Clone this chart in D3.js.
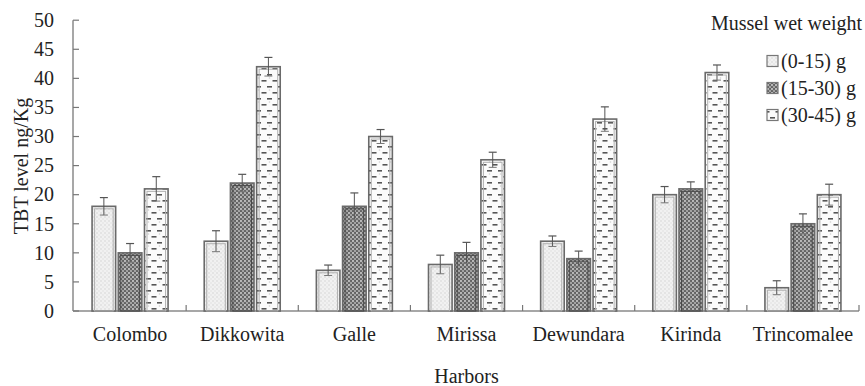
<!DOCTYPE html>
<html>
<head>
<meta charset="utf-8">
<script src="https://cdn.jsdelivr.net/npm/d3@7/dist/d3.min.js"></script>
<style>
  html, body { margin: 0; padding: 0; background: #fff; }
  svg text { font-family: "Liberation Serif", "Times New Roman", Times, "DejaVu Serif", serif; }
</style>
</head>
<body>
<svg id="chart" width="865" height="386"></svg>
<script>
// Harbors and mussel size classes
const harbors = ["Colombo", "Dikkowita", "Galle", "Mirissa", "Dewundara", "Kirinda", "Trincomalee"];
const sizeClasses = ["(0-15) g", "(15-30) g", "(30-45) g"];

// Mean TBT level (ng/Kg) for each size class, in harbor order
const tbtSmall  = [18, 12, 7, 8, 12, 20, 4];
const tbtMedium = [10, 22, 18, 10, 9, 21, 15];
const tbtLarge  = [21, 42, 30, 26, 33, 41, 20];

// Error (± ng/Kg) for each size class
const errSmall  = [1.5, 1.8, 0.9, 1.6, 0.9, 1.4, 1.2];
const errMedium = [1.6, 1.5, 2.3, 1.8, 1.3, 1.2, 1.7];
const errLarge  = [2.1, 1.6, 1.2, 1.3, 2.1, 1.3, 1.8];

const yTicks = [0, 5, 10, 15, 20, 25, 30, 35, 40, 45, 50];

const seriesValues = [tbtSmall, tbtMedium, tbtLarge];
const seriesErrors = [errSmall, errMedium, errLarge];

const FONT = '"Liberation Serif", "Times New Roman", Times, "DejaVu Serif", serif';
const TEXT_COLOR = "#222";

const svg = d3.select("#chart");
const defs = svg.append("defs");

// Fill patterns for the three size classes
const p1 = defs.append("pattern").attr("id", "pat0").attr("patternUnits", "userSpaceOnUse")
  .attr("width", 4).attr("height", 4);
p1.append("rect").attr("width", 4).attr("height", 4).attr("fill", "#f1f1f1");
p1.append("circle").attr("cx", 1).attr("cy", 1).attr("r", 0.7).attr("fill", "#cfcfcf");
p1.append("circle").attr("cx", 3).attr("cy", 3).attr("r", 0.7).attr("fill", "#dcdcdc");

const p2 = defs.append("pattern").attr("id", "pat1").attr("patternUnits", "userSpaceOnUse")
  .attr("width", 4).attr("height", 4);
p2.append("rect").attr("width", 4).attr("height", 4).attr("fill", "#626262");
p2.append("circle").attr("cx", 1).attr("cy", 1).attr("r", 1.15).attr("fill", "#bdbdbd");
p2.append("circle").attr("cx", 3).attr("cy", 3).attr("r", 1.15).attr("fill", "#a6a6a6");

const p3 = defs.append("pattern").attr("id", "pat2").attr("patternUnits", "userSpaceOnUse")
  .attr("width", 11).attr("height", 12);
p3.append("rect").attr("width", 11).attr("height", 12).attr("fill", "#fbfbfb");
p3.append("rect").attr("x", 3).attr("y", 2).attr("width", 5).attr("height", 1.6).attr("fill", "#555");
p3.append("rect").attr("x", 8.5).attr("y", 8).attr("width", 5).attr("height", 1.6).attr("fill", "#555");
p3.append("rect").attr("x", -2.5).attr("y", 8).attr("width", 5).attr("height", 1.6).attr("fill", "#555");
p3.append("circle").attr("cx", 5.5).attr("cy", 6).attr("r", 0.8).attr("fill", "#d0d0d0");

// Scales
const x0 = d3.scaleBand().domain(harbors).range([74, 859]);
const x1 = d3.scaleBand().domain(d3.range(3)).range([0, 76]).paddingInner(0.1);
const y = d3.scaleLinear().domain([0, 50]).range([311, 20.2]);

const groupOffset = (x0.bandwidth() - 76) / 2;

function label(sel) {
  return sel.attr("font-family", FONT).attr("font-size", 20).attr("fill", TEXT_COLOR);
}

// Axes
const gx = svg.append("g").attr("transform", "translate(0,311)");
gx.append("line").attr("x1", 73).attr("x2", 859).attr("y1", 0).attr("y2", 0)
  .attr("stroke", "#8a8a8a").attr("stroke-width", 1.5);
gx.selectAll("line.tick").data(harbors).enter().append("line")
  .attr("class", "tick")
  .attr("x1", d => x0(d) + x0.bandwidth()).attr("x2", d => x0(d) + x0.bandwidth())
  .attr("y1", 0).attr("y2", -6)
  .attr("stroke", "#777").attr("stroke-width", 1.2);
gx.selectAll("text").data(harbors).enter().append("text")
  .attr("x", d => x0(d) + x0.bandwidth() / 2).attr("y", 30)
  .attr("text-anchor", "middle").call(label)
  .text(d => d);

const gy = svg.append("g");
gy.append("line").attr("x1", 73).attr("x2", 73).attr("y1", y(50)).attr("y2", 311)
  .attr("stroke", "#8a8a8a").attr("stroke-width", 1.5);
gy.selectAll("line.tick").data(yTicks).enter().append("line")
  .attr("class", "tick")
  .attr("x1", 73).attr("x2", 79).attr("y1", d => y(d)).attr("y2", d => y(d))
  .attr("stroke", "#777").attr("stroke-width", 1.2);
gy.selectAll("text").data(yTicks).enter().append("text")
  .attr("x", 54).attr("y", d => y(d)).attr("dy", "0.34em")
  .attr("text-anchor", "end").call(label)
  .text(d => d);

// Axis titles
svg.append("text").attr("transform", "translate(28,166) rotate(-90)")
  .attr("text-anchor", "middle").call(label)
  .text("TBT level ng/Kg");
svg.append("text").attr("x", 466.5).attr("y", 383)
  .attr("text-anchor", "middle").call(label)
  .text("Harbors");

// Bars
const bars = [];
harbors.forEach((h, i) => {
  seriesValues.forEach((vals, s) => {
    bars.push({ harbor: h, s, v: vals[i], e: seriesErrors[s][i] });
  });
});

const gb = svg.append("g");
const barG = gb.selectAll("g.bar").data(bars).enter().append("g").attr("class", "bar");
barG.append("rect")
  .attr("x", d => x0(d.harbor) + groupOffset + x1(d.s))
  .attr("y", d => y(d.v))
  .attr("width", x1.bandwidth())
  .attr("height", d => 311 - y(d.v))
  .attr("fill", d => `url(#pat${d.s})`)
  .attr("stroke", "#6a6a6a").attr("stroke-width", 1.6);
barG.append("rect")
  .attr("x", d => x0(d.harbor) + groupOffset + x1(d.s) + 2.5)
  .attr("y", d => y(d.v) + 2.5)
  .attr("width", x1.bandwidth() - 5)
  .attr("height", d => Math.max(0, 311 - y(d.v) - 2.5))
  .attr("fill", "none")
  .attr("stroke", d => d.s === 1 ? "#4a4a4a" : "#b0b0b0").attr("stroke-width", 1);

// Error bars
const cx = d => x0(d.harbor) + groupOffset + x1(d.s) + x1.bandwidth() / 2;
barG.append("line")
  .attr("x1", cx).attr("x2", cx)
  .attr("y1", d => y(d.v - d.e)).attr("y2", d => y(d.v + d.e))
  .attr("stroke", "#555").attr("stroke-width", 1);
barG.append("line")
  .attr("x1", d => cx(d) - 4).attr("x2", d => cx(d) + 4)
  .attr("y1", d => y(d.v + d.e)).attr("y2", d => y(d.v + d.e))
  .attr("stroke", "#555").attr("stroke-width", 1.2);
barG.append("line")
  .attr("x1", d => cx(d) - 4).attr("x2", d => cx(d) + 4)
  .attr("y1", d => y(d.v - d.e)).attr("y2", d => y(d.v - d.e))
  .attr("stroke", "#777").attr("stroke-width", 1);

// Legend
const gl = svg.append("g");
gl.append("text").attr("x", 862).attr("y", 30).attr("text-anchor", "end")
  .call(label).text("Mussel wet weight");
const rowY = [61, 88, 115];
const lg = gl.selectAll("g.item").data(sizeClasses).enter().append("g").attr("class", "item")
  .attr("transform", (d, i) => `translate(767,${rowY[i]})`);
lg.append("rect").attr("x", 0).attr("y", -5.5).attr("width", 11).attr("height", 11)
  .attr("fill", (d, i) => `url(#pat${i})`).attr("stroke", "#777").attr("stroke-width", 1.2);
lg.append("text").attr("x", 14).attr("y", 0).attr("dy", "0.34em")
  .call(label).text(d => d);
</script>
</body>
</html>
